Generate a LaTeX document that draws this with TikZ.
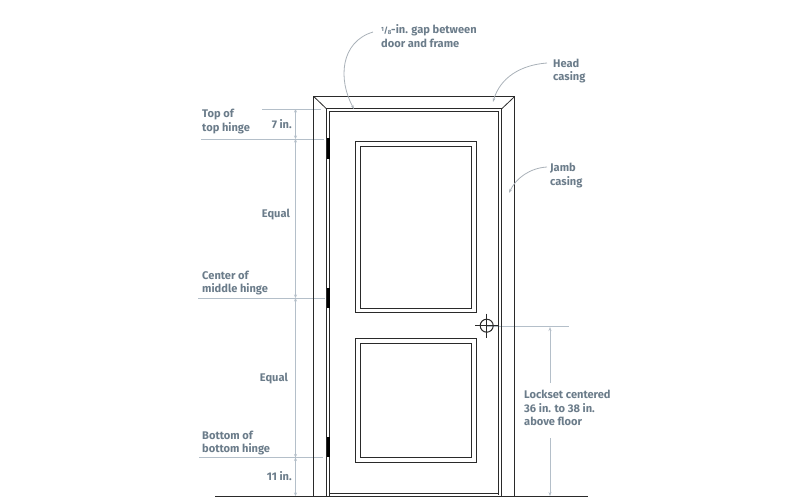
\documentclass[tikz,border=0pt]{standalone}
\usepackage{fontspec}
\setmainfont{Fira Sans}
\usetikzlibrary{arrows.meta}
\definecolor{lab}{HTML}{6B7C8A}
\definecolor{dim}{HTML}{B4BFC9}
\definecolor{lead}{HTML}{A9B1B8}
\definecolor{ink}{HTML}{2A2A2A}
\newcommand{\oneeighth}{\raisebox{2.6pt}{\fontsize{6}{6}\selectfont 1}\kern-0.2pt{\fontsize{8}{8}\selectfont /}\kern-0.2pt\raisebox{-0.6pt}{\fontsize{6}{6}\selectfont 8}}
\tikzset{x=1pt,y=-1pt,
 lbl/.style={text=lab,font=\fontsize{11.1}{13.5}\selectfont\bfseries,align=left,inner sep=0pt,anchor=north west},
 lblr/.style={text=lab,font=\fontsize{11.1}{13.5}\selectfont\bfseries,inner sep=0pt,anchor=east},
 ln/.style={draw=ink,line width=1pt,line join=miter},
 dimln/.style={draw=dim,line width=0.9pt},
 dimarr/.style={draw=dim,line width=0.9pt,{Stealth[length=3.5pt,width=3pt]}-{Stealth[length=3.5pt,width=3pt]}},
 leader/.style={draw=lead,line width=0.8pt,-{Stealth[length=4pt,width=2.6pt]}}}
\begin{document}
\begin{tikzpicture}
\useasboundingbox (0,0) rectangle (800,500);
% extension lines
\draw[dimln] (262,109) -- (321,109);
\draw[dimln] (201,139) -- (324,139);
\draw[dimln] (198,298) -- (325,298);
\draw[dimln] (199,457.5) -- (323,457.5);
\draw[dimln] (486,326) -- (569,326);
% dimension lines
\coordinate (d0) at (295.5,109);
\coordinate (d1) at (295.5,139);
\coordinate (d2) at (295.5,298);
\coordinate (d3) at (295.5,457.5);
\coordinate (d4) at (295.5,496);
\draw[dimarr] (d0) -- (d1);
\draw[dimarr] (d1) -- (d2);
\draw[dimarr] (d2) -- (d3);
\draw[dimarr] (d3) -- (d4);
\coordinate (l0) at (550,327);
\coordinate (l1) at (550,383);
\coordinate (l2) at (550,438);
\coordinate (l3) at (550,496);
\draw[dimln,{Stealth[length=4pt,width=3pt]}-] (l0) -- (l1);
\draw[dimln,-{Stealth[length=4pt,width=3pt]}] (l2) -- (l3);
% casing
\draw[ln] (313.7,496.5) -- (313.7,96.5) -- (514.7,96.5) -- (514.7,496.5);
\draw[ln] (326.7,496.5) -- (326.7,109) -- (501.5,109) -- (501.5,496.5);
\draw[ln,line width=0.8pt] (313.7,96.5) -- (326.7,109);
\draw[ln,line width=0.8pt] (514.7,96.5) -- (501.5,109);
% door
\draw[ln] (329.7,496.5) -- (329.7,112) -- (498.7,112) -- (498.7,495);
\draw[ln] (329.7,493.5) -- (498.7,493.5);
% panels
\draw[ln] (355.7,141.7) rectangle (476.7,312.7);
\draw[ln] (360.2,146) rectangle (471.7,308);
\draw[ln] (355.7,338.3) rectangle (476.7,462);
\draw[ln] (360.2,343.3) rectangle (471.7,457.3);
% floor
\draw[ink,line width=1.2pt] (215,496.8) -- (588,496.8);
% hinges
\fill[black] (327,138) rectangle (330.2,159);
\fill[black] (327,288) rectangle (330.2,308);
\fill[black] (327,437) rectangle (330.2,457);
% lockset
\draw[ink,line width=1pt] (486.7,325.7) circle (6.5);
\draw[ink,line width=1pt] (475,325.7) -- (498,325.7) (486.7,313.5) -- (486.7,338);
% labels
\node[lbl] (gap) at (381,24.5) {\oneeighth-in. gap between\\door and frame};
\node[lbl] (head) at (553,58.5) {Head\\casing};
\node[lbl] (jamb) at (550,163) {Jamb\\casing};
\node[lbl] (top) at (202,109) {Top of\\top hinge};
\node[lbl] (center) at (202,270.5) {Center of\\middle hinge};
\node[lbl] (bottom) at (202,430.5) {Bottom of\\bottom hinge};
\node[lblr] (seven) at (292,124) {7 in.};
\node[lblr] (eq1) at (290,215) {Equal};
\node[lblr] (eq2) at (288,379) {Equal};
\node[lblr] (eleven) at (292,476) {11 in.};
\node[lbl] (lock) at (524,390) {Lockset centered\\36 in. to 38 in.\\above floor};
% leaders
\coordinate (g) at (354,109);
\coordinate (h) at (493,102);
\coordinate (j) at (509,193);
\draw[leader] (373,32) .. controls (340,42) and (338,80) .. (g);
\draw[leader] (547,63) .. controls (520,65) and (500,78) .. (h);
\draw[leader] (547,167) .. controls (530,168) and (516,178) .. (j);
\end{tikzpicture}
\end{document}
